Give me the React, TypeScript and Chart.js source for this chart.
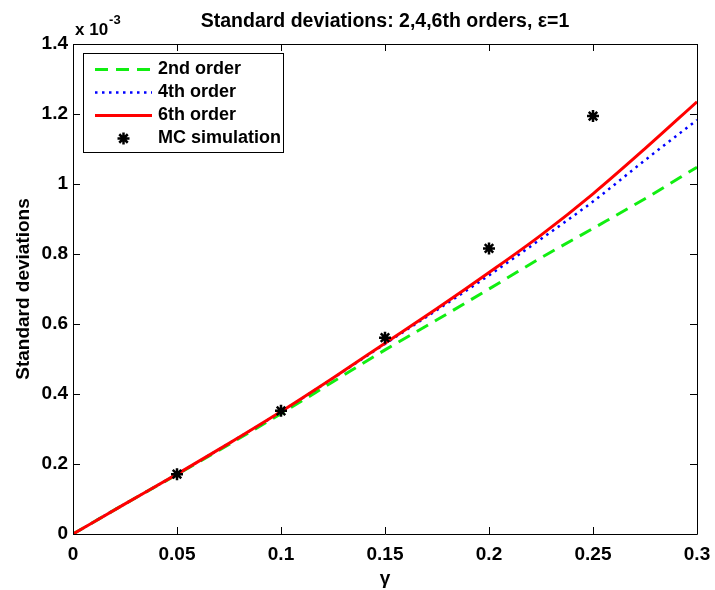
import React, { useEffect, useRef } from 'react';
import { Chart, registerables } from 'chart.js';

Chart.register(...registerables);

const FONT = '"Liberation Sans", Arial, Helvetica, sans-serif';

// gamma grid for the analytic curves
const gammaValues = [0, 0.025, 0.05, 0.075, 0.1, 0.125, 0.15, 0.175, 0.2, 0.225, 0.25, 0.275, 0.3];
// standard deviations (x 1e-3)
const order2Values = [0, 0.086, 0.17, 0.256, 0.344, 0.435, 0.526, 0.612, 0.7, 0.789, 0.873, 0.958, 1.048];
const order4Values = [0, 0.086, 0.171, 0.259, 0.349, 0.445, 0.543, 0.64, 0.739, 0.843, 0.95, 1.068, 1.183];
const order6Values = [0, 0.086, 0.171, 0.259, 0.35, 0.446, 0.545, 0.644, 0.747, 0.854, 0.972, 1.101, 1.235];
// Monte Carlo simulation points
const mcGamma = [0.05, 0.1, 0.15, 0.2, 0.25];
const mcValues = [0.171, 0.352, 0.561, 0.816, 1.194];

const xTickValues = [0, 0.05, 0.1, 0.15, 0.2, 0.25, 0.3];
const xTickLabels = ['0', '0.05', '0.1', '0.15', '0.2', '0.25', '0.3'];
const yTickValues = [0, 0.2, 0.4, 0.6, 0.8, 1, 1.2, 1.4];
const yTickLabels = ['0', '0.2', '0.4', '0.6', '0.8', '1', '1.2', '1.4'];

const seriesLabels = ['2nd order', '4th order', '6th order', 'MC simulation'];
const chartTitle = 'Standard deviations: 2,4,6th orders, \u03b5=1';
const xTitle = '\u03b3';
const yTitle = 'Standard deviations';

const toPoints = (xs: number[], ys: number[]) => xs.map((x, i) => ({ x, y: ys[i] }));

const decorPlugin = {
  id: 'decor',
  afterDraw(chart: any) {
    const { ctx, chartArea, scales } = chart;
    const { left, right, top, bottom } = chartArea;
    ctx.save();
    // box
    ctx.strokeStyle = '#000';
    ctx.lineWidth = 1;
    ctx.beginPath();
    ctx.rect(Math.round(left) + 0.5, Math.round(top) + 0.5, Math.round(right - left), Math.round(bottom - top));
    ctx.stroke();
    // inward ticks
    const tl = 7;
    ctx.beginPath();
    xTickValues.forEach((v) => {
      const px = Math.round(scales.x.getPixelForValue(v)) + 0.5;
      ctx.moveTo(px, bottom);
      ctx.lineTo(px, bottom - tl);
      ctx.moveTo(px, top);
      ctx.lineTo(px, top + tl);
    });
    yTickValues.forEach((v) => {
      const py = Math.round(scales.y.getPixelForValue(v)) + 0.5;
      ctx.moveTo(left, py);
      ctx.lineTo(left + tl, py);
      ctx.moveTo(right, py);
      ctx.lineTo(right - tl, py);
    });
    ctx.stroke();

    // title
    ctx.fillStyle = '#000';
    ctx.font = `bold 19.5px ${FONT}`;
    ctx.textAlign = 'center';
    ctx.textBaseline = 'alphabetic';
    ctx.fillText(chartTitle, (left + right) / 2, 27);

    // exponent label
    ctx.textAlign = 'left';
    ctx.font = `bold 17px ${FONT}`;
    ctx.fillText('x 10', left + 2, 35);
    const w = ctx.measureText('x 10').width;
    ctx.font = `bold 13px ${FONT}`;
    ctx.fillText('-3', left + 3 + w, 24);

    // legend
    const lx = 83, ly = 53, lw = 200, lh = 99;
    ctx.fillStyle = '#fff';
    ctx.fillRect(lx, ly, lw, lh);
    ctx.strokeStyle = '#000';
    ctx.lineWidth = 1;
    ctx.strokeRect(lx + 0.5, ly + 0.5, lw, lh);
    const rows = [69.5, 92.5, 115.5, 138.5];
    const dsets = chart.data.datasets;
    rows.forEach((ry, i) => {
      const ds = dsets[i];
      if (i < 3) {
        ctx.save();
        ctx.strokeStyle = ds.borderColor;
        ctx.lineWidth = ds.borderWidth;
        ctx.setLineDash(ds.borderDash || []);
        ctx.lineCap = 'butt';
        ctx.beginPath();
        ctx.moveTo(95, ry);
        ctx.lineTo(152, ry);
        ctx.stroke();
        ctx.restore();
      } else {
        ctx.save();
        ctx.strokeStyle = '#000';
        ctx.lineWidth = 2.5;
        const r = 6;
        const cx = 123.5, cy = ry;
        ctx.beginPath();
        for (let k = 0; k < 4; k++) {
          const a = (k * Math.PI) / 4;
          ctx.moveTo(cx + r * Math.cos(a), cy + r * Math.sin(a));
          ctx.lineTo(cx - r * Math.cos(a), cy - r * Math.sin(a));
        }
        ctx.stroke();
        ctx.restore();
      }
      ctx.fillStyle = '#000';
      ctx.font = `bold 18px ${FONT}`;
      ctx.textAlign = 'left';
      ctx.textBaseline = 'middle';
      ctx.fillText(seriesLabels[i], 158, ry);
    });
    ctx.restore();
  },
};

export default function App() {
  const canvasRef = useRef<HTMLCanvasElement | null>(null);

  useEffect(() => {
    const canvas = canvasRef.current;
    if (!canvas) return;
    const chart = new Chart(canvas, {
      type: 'scatter',
      data: {
        datasets: [
          {
            label: seriesLabels[0],
            data: toPoints(gammaValues, order2Values),
            showLine: true,
            borderColor: '#11ee11',
            borderWidth: 3,
            borderDash: [13, 8],
            pointRadius: 0,
            cubicInterpolationMode: 'monotone',
            order: 4,
          },
          {
            label: seriesLabels[1],
            data: toPoints(gammaValues, order4Values),
            showLine: true,
            borderColor: '#0000ff',
            borderWidth: 2.5,
            borderDash: [2.5, 4.5],
            pointRadius: 0,
            cubicInterpolationMode: 'monotone',
            order: 3,
          },
          {
            label: seriesLabels[2],
            data: toPoints(gammaValues, order6Values),
            showLine: true,
            borderColor: '#ff0000',
            borderWidth: 3,
            pointRadius: 0,
            cubicInterpolationMode: 'monotone',
            order: 2,
          },
          {
            label: seriesLabels[3],
            data: toPoints(mcGamma, mcValues),
            showLine: false,
            pointStyle: 'star',
            pointRadius: 6,
            pointBorderWidth: 2.5,
            pointBorderColor: '#000',
            pointBackgroundColor: '#000',
            borderColor: '#000',
            order: 1,
          },
        ] as any,
      },
      options: {
        responsive: false,
        animation: false,
        layout: { padding: { left: 0, top: 44, right: 18, bottom: 0 } },
        plugins: {
          legend: { display: false },
          title: { display: false },
          tooltip: { enabled: false },
        },
        scales: {
          x: {
            type: 'linear',
            min: 0,
            max: 0.3,
            afterBuildTicks: (scale: any) => {
              scale.ticks = xTickValues.map((v) => ({ value: v }));
            },
            afterFit: (scale: any) => {
              scale.height = 56;
              scale.paddingLeft = 0;
              scale.paddingRight = 0;
            },
            ticks: {
              padding: 9,
              color: '#000',
              font: { family: FONT, size: 19, weight: 'bold' },
              maxRotation: 0,
              autoSkip: false,
              callback: (v: any) => {
                const i = xTickValues.findIndex((t) => Math.abs(t - Number(v)) < 1e-9);
                return i >= 0 ? xTickLabels[i] : '';
              },
            },
            grid: { display: false, drawTicks: false },
            border: { display: false },
            title: {
              display: true,
              text: xTitle,
              color: '#000',
              font: { family: FONT, size: 19, weight: 'bold' },
              padding: { top: 0, bottom: 0 },
            },
          },
          y: {
            type: 'linear',
            min: 0,
            max: 1.4,
            afterBuildTicks: (scale: any) => {
              scale.ticks = yTickValues.map((v) => ({ value: v }));
            },
            afterFit: (scale: any) => {
              scale.width = 73;
              scale.paddingTop = 0;
              scale.paddingBottom = 0;
            },
            ticks: {
              padding: 5,
              color: '#000',
              font: { family: FONT, size: 19, weight: 'bold' },
              autoSkip: false,
              callback: (v: any) => {
                const i = yTickValues.findIndex((t) => Math.abs(t - Number(v)) < 1e-9);
                return i >= 0 ? yTickLabels[i] : '';
              },
            },
            grid: { display: false, drawTicks: false },
            border: { display: false },
            title: {
              display: true,
              text: yTitle,
              color: '#000',
              font: { family: FONT, size: 19, weight: 'bold' },
              padding: { top: 12, bottom: 0 },
            },
          },
        },
      } as any,
      plugins: [decorPlugin],
    });
    return () => chart.destroy();
  }, []);

  return (
    <div style={{ position: 'absolute', left: 0, top: 0, width: 715, height: 590, background: '#fff' }}>
      <canvas ref={canvasRef} width={715} height={590} style={{ display: 'block' }} />
    </div>
  );
}
